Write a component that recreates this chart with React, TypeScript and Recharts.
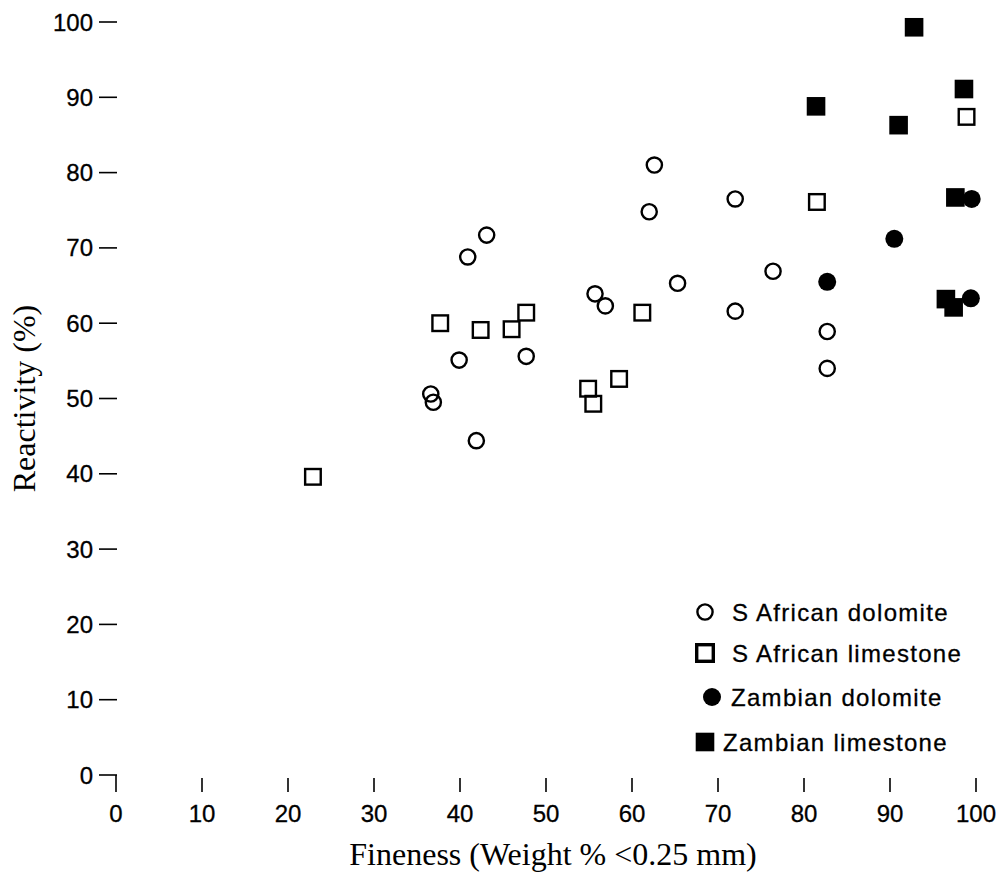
import { Legend, Scatter, ScatterChart, XAxis, YAxis } from "recharts";

// tick values
const xTicks = [0, 10, 20, 30, 40, 50, 60, 70, 80, 90, 100];
const yTicks = [0, 10, 20, 30, 40, 50, 60, 70, 80, 90, 100];

// fineness (x) vs reactivity (y)
const saDolomite = [
  { x: 62.6, y: 81.0 },
  { x: 62.0, y: 74.8 },
  { x: 72.0, y: 76.5 },
  { x: 40.9, y: 68.8 },
  { x: 43.1, y: 71.7 },
  { x: 39.9, y: 55.1 },
  { x: 36.6, y: 50.6 },
  { x: 36.9, y: 49.5 },
  { x: 41.9, y: 44.4 },
  { x: 65.3, y: 65.3 },
  { x: 55.7, y: 63.9 },
  { x: 56.9, y: 62.3 },
  { x: 47.7, y: 55.6 },
  { x: 76.4, y: 66.9 },
  { x: 72.0, y: 61.6 },
  { x: 82.7, y: 58.9 },
  { x: 82.7, y: 54.0 },
];

const saLimestone = [
  { x: 22.9, y: 39.6 },
  { x: 37.7, y: 60.0 },
  { x: 42.4, y: 59.1 },
  { x: 46.0, y: 59.2 },
  { x: 47.7, y: 61.4 },
  { x: 61.2, y: 61.4 },
  { x: 58.5, y: 52.6 },
  { x: 54.9, y: 51.3 },
  { x: 55.5, y: 49.3 },
  { x: 81.5, y: 76.1 },
  { x: 98.9, y: 87.4 },
];

const zamDolomite = [
  { x: 99.5, y: 76.5 },
  { x: 90.5, y: 71.2 },
  { x: 82.7, y: 65.5 },
  { x: 99.4, y: 63.3 },
];

const zamLimestone = [
  { x: 92.8, y: 99.3 },
  { x: 98.6, y: 91.1 },
  { x: 81.4, y: 88.8 },
  { x: 91.0, y: 86.3 },
  { x: 97.6, y: 76.7 },
  { x: 96.5, y: 63.2 },
  { x: 97.4, y: 62.1 },
];

const sans = "'Liberation Sans', Arial, Helvetica, sans-serif";
const serif = "'Liberation Serif', 'Times New Roman', serif";

const OpenCircle = (p: any) => (
  <circle cx={p.cx} cy={p.cy} r={7.6} fill="none" stroke="#000" strokeWidth={2.4} />
);
const OpenSquare = (p: any) => (
  <rect x={p.cx - 7.8} y={p.cy - 7.8} width={15.6} height={15.6} fill="none" stroke="#000" strokeWidth={2.4} />
);
const FilledCircle = (p: any) => <circle cx={p.cx} cy={p.cy} r={9} fill="#000" />;
const FilledSquare = (p: any) => (
  <rect x={p.cx - 9.3} y={p.cy - 9.3} width={18.6} height={18.6} fill="#000" />
);
// legend square is drawn a little heavier in the original
const LegendSquare = (p: any) => (
  <rect x={p.cx - 8.3} y={p.cy - 8.3} width={16.6} height={16.6} fill="none" stroke="#000" strokeWidth={3.4} />
);

const legendRows = [
  { name: "S African dolomite", Shape: OpenCircle, mx: 15, tx: 42, cy: 20 },
  { name: "S African limestone", Shape: LegendSquare, mx: 15, tx: 42, cy: 61 },
  { name: "Zambian dolomite", Shape: FilledCircle, mx: 22, tx: 41, cy: 105 },
  { name: "Zambian limestone", Shape: FilledSquare, mx: 15, tx: 33, cy: 150 },
];

const tickText = { fontSize: 24, fontFamily: sans, fill: "#000", stroke: "#000", strokeWidth: 0.3 };

function XTick({ x, y, payload }: any) {
  const top = payload.value === 0 ? 0 : 3;
  return (
    <g>
      <line x1={x} x2={x} y1={y + top} y2={y + 17} stroke="#000" strokeWidth={1.6} />
      <text x={x} y={y + 47} textAnchor="middle" {...tickText}>
        {payload.value}
      </text>
    </g>
  );
}

function YTick({ x, y, payload }: any) {
  return (
    <g>
      <line x1={x - 17} x2={x + 1} y1={y} y2={y} stroke="#000" strokeWidth={1.6} />
      <text x={x - 23} y={y + 8.5} textAnchor="end" {...tickText}>
        {payload.value}
      </text>
    </g>
  );
}

function renderLegend() {
  return (
    <svg width={300} height={175}>
      {legendRows.map((r) => (
        <g key={r.name}>
          <r.Shape cx={r.mx} cy={r.cy} />
          <text
            x={r.tx}
            y={r.cy + 8.5}
            fontSize={24}
            letterSpacing={1.3}
            fontFamily={sans}
            fill="#000"
            stroke="#000"
            strokeWidth={0.3}
          >
            {r.name}
          </text>
        </g>
      ))}
    </svg>
  );
}

export default function App() {
  return (
    <div style={{ position: "absolute", left: 0, top: 0, width: 1003, height: 874, background: "#fff" }}>
      <ScatterChart width={1003} height={874} margin={{ top: 22, right: 27, bottom: 0, left: 0 }}>
        <XAxis
          type="number"
          dataKey="x"
          domain={[0, 100]}
          ticks={xTicks}
          height={99}
          axisLine={false}
          tickLine={false}
          tickSize={0}
          tickMargin={0}
          tick={<XTick />}
          label={(props: any) => {
            const vb = props.viewBox;
            return (
              <text x={vb.x + vb.width / 2 + 7} y={vb.y + 90} textAnchor="middle" fontSize={32} fontFamily={serif} fill="#000">
                Fineness (Weight % &lt;0.25 mm)
              </text>
            );
          }}
        />
        <YAxis
          type="number"
          dataKey="y"
          domain={[0, 100]}
          ticks={yTicks}
          width={116}
          axisLine={false}
          tickLine={false}
          tickSize={0}
          tickMargin={0}
          tick={<YTick />}
          label={(props: any) => {
            const vb = props.viewBox;
            const cy = vb.y + vb.height / 2;
            return (
              <text x={35} y={cy} transform={`rotate(-90, 35, ${cy})`} textAnchor="middle" fontSize={32} fontFamily={serif} fill="#000">
                Reactivity (%)
              </text>
            );
          }}
        />
        <Legend
          layout="vertical"
          align="center"
          verticalAlign="middle"
          content={renderLegend}
          wrapperStyle={{ left: 690, top: 592, width: 300, height: 175 }}
        />
        <Scatter name="S African dolomite" data={saDolomite} shape={OpenCircle} isAnimationActive={false} />
        <Scatter name="S African limestone" data={saLimestone} shape={OpenSquare} isAnimationActive={false} />
        <Scatter name="Zambian limestone" data={zamLimestone} shape={FilledSquare} isAnimationActive={false} />
        <Scatter name="Zambian dolomite" data={zamDolomite} shape={FilledCircle} isAnimationActive={false} />
      </ScatterChart>
    </div>
  );
}
